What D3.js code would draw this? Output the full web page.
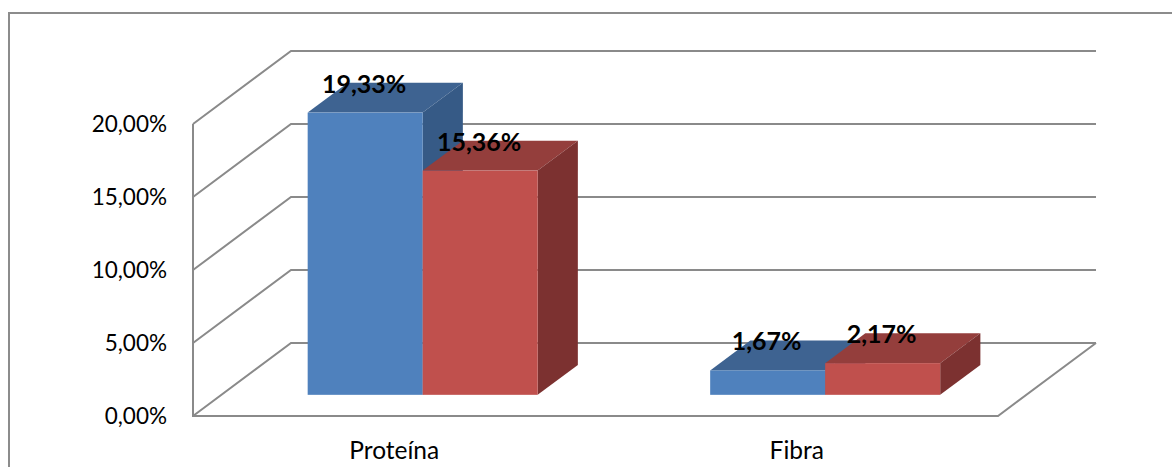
<!DOCTYPE html>
<html>
<head>
<meta charset="utf-8">
<script src="https://cdn.jsdelivr.net/npm/d3@7"></script>
<style>
  body { margin: 0; background: #fff; }
  text { font-family: Lato, "Open Sans", sans-serif; }
</style>
</head>
<body>
<svg></svg>
<script>
// Data
const categories = ["Proteína", "Fibra"]
const series = ["A", "B"]
const valuesA = [0.1933, 0.0167]
const valuesB = [0.1536, 0.0217]
const yTicks = [0, 0.05, 0.10, 0.15, 0.20]

const width = 1172
const height = 467

const svg = d3.select("svg")
    .attr("width", width)
    .attr("height", height)

// Colors (front, top, side)
const colors = {
    A: { front: "#4f81bd", top: "#3e6391", side: "#365a86" },
    B: { front: "#c0504d", top: "#943e3c", side: "#7c3130" }
}
const gridColor = "#8a8a8a"

// Plot frame (front plane)
const left = 193
const right = 998
const depthX = 98
const depthY = -73

// Bar depth band inside the floor depth
const barD0 = 0.29
const barD1 = 0.70

const yScale = d3.scaleLinear().domain([0, 0.20]).range([416, 124])
const xScale = d3.scaleBand().domain(categories).range([left, right]).padding(0)
const sScale = d3.scaleBand().domain(series).range([0, xScale.bandwidth()])
    .paddingInner(0).paddingOuter(0.75)

const fmt = v => d3.format(".2f")(v * 100).replace(".", ",") + "%"

// Outer border
svg.append("rect")
    .attr("x", 9).attr("y", 13)
    .attr("width", width + 20).attr("height", height + 20)
    .attr("fill", "none")
    .attr("stroke", "#8c8c8c")
    .attr("stroke-width", 2)

const g = svg.append("g")

// Gridlines: left wall diagonal + back wall horizontal
yTicks.forEach(t => {
    const y0 = yScale(t)
    const pts = [[left, y0], [left + depthX, y0 + depthY], [right + depthX, y0 + depthY]]
    g.append("path")
        .attr("d", d3.line()(pts))
        .attr("fill", "none")
        .attr("stroke", gridColor)
        .attr("stroke-width", 2)
})

// Left axis line and floor front/right edges
g.append("path")
    .attr("d", d3.line()([[left, yScale(0.20)], [left, yScale(0)], [right, yScale(0)], [right + depthX, yScale(0) + depthY]]))
    .attr("fill", "none")
    .attr("stroke", gridColor)
    .attr("stroke-width", 2)

// Tick labels
g.selectAll(".tick-label").data(yTicks).enter()
    .append("text")
    .attr("class", "tick-label")
    .attr("x", 167)
    .attr("y", d => yScale(d))
    .attr("dy", "0.36em")
    .attr("text-anchor", "end")
    .attr("font-size", 22.5)
    .attr("fill", "#000")
    .text(fmt)

// Category labels
g.selectAll(".cat-label").data(categories).enter()
    .append("text")
    .attr("class", "cat-label")
    .attr("x", d => xScale(d) + xScale.bandwidth() / 2)
    .attr("y", 459)
    .attr("text-anchor", "middle")
    .attr("font-size", 24.5)
    .attr("fill", "#000")
    .text(d => d)

// Bars
const bars = []
categories.forEach((c, i) => {
    bars.push({ cat: c, s: "A", v: valuesA[i] })
    bars.push({ cat: c, s: "B", v: valuesB[i] })
})

const fx = barD0 * depthX, fy = barD0 * depthY
const bx = (barD1 - barD0) * depthX, by = (barD1 - barD0) * depthY

bars.forEach(b => {
    const x0 = xScale(b.cat) + sScale(b.s) + fx
    const x1 = x0 + sScale.bandwidth()
    const yb = yScale(0) + fy
    const yt = yScale(b.v) + fy
    const col = colors[b.s]
    // top face
    g.append("path")
        .attr("d", d3.line()([[x0, yt], [x0 + bx, yt + by], [x1 + bx, yt + by], [x1, yt]]) + "Z")
        .attr("fill", col.top)
    // side face
    g.append("path")
        .attr("d", d3.line()([[x1, yt], [x1 + bx, yt + by], [x1 + bx, yb + by], [x1, yb]]) + "Z")
        .attr("fill", col.side)
    // front face
    g.append("rect")
        .attr("x", x0).attr("y", yt)
        .attr("width", x1 - x0).attr("height", yb - yt)
        .attr("fill", col.front)
})

// Data labels
bars.forEach(b => {
    const x0 = xScale(b.cat) + sScale(b.s) + fx
    const yt = yScale(b.v) + fy
    g.append("text")
        .attr("x", x0 + sScale.bandwidth() / 2 - 1)
        .attr("y", yt - 20)
        .attr("text-anchor", "middle")
        .attr("font-size", 25)
        .attr("font-weight", "bold")
        .attr("fill", "#000")
        .text(fmt(b.v))
})
</script>
</body>
</html>
